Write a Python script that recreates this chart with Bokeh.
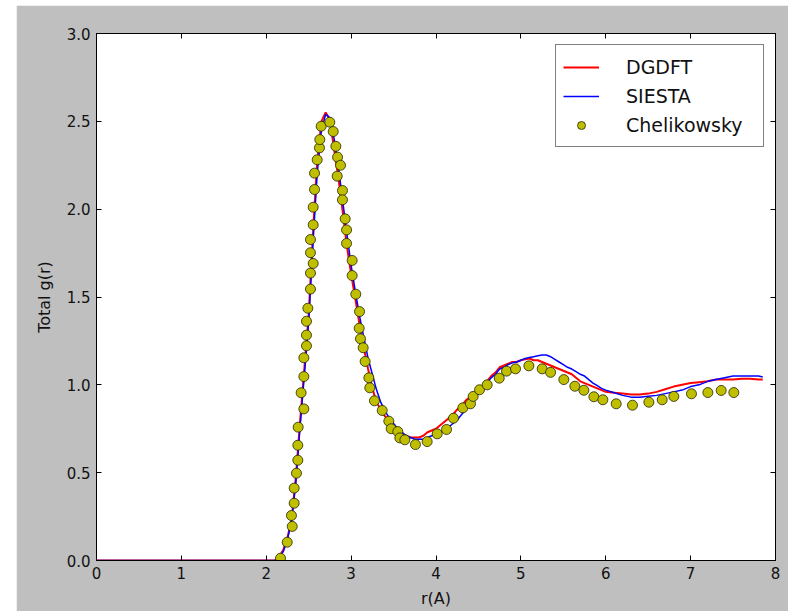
from bokeh.plotting import figure
from bokeh.models import Range1d, FixedTicker, LinearAxis, Legend, LegendItem, NumeralTickFormatter
from bokeh.embed import file_html
from bokeh.resources import INLINE

# ---- data ----
dgdft_r = [0.0, 2.10, 2.15, 2.20, 2.25, 2.30, 2.35, 2.40, 2.45, 2.50, 2.55, 2.60, 2.65, 2.70, 2.75,
           2.80, 2.85, 2.90, 2.95, 3.00, 3.05, 3.10, 3.15, 3.20, 3.25, 3.30, 3.35, 3.40, 3.45, 3.50,
           3.55, 3.60, 3.65, 3.70, 3.75, 3.80, 3.85, 3.90, 3.95, 4.00, 4.05, 4.10, 4.15, 4.20, 4.25,
           4.30, 4.35, 4.40, 4.45, 4.50, 4.55, 4.60, 4.65, 4.70, 4.75, 4.80, 4.85, 4.90, 4.95, 5.00,
           5.05, 5.10, 5.15, 5.20, 5.25, 5.30, 5.35, 5.40, 5.45, 5.50, 5.55, 5.60, 5.65, 5.70, 5.75,
           5.80, 5.85, 5.90, 5.95, 6.00, 6.10, 6.20, 6.30, 6.40, 6.50, 6.60, 6.70, 6.80, 6.90, 7.00,
           7.10, 7.20, 7.30, 7.40, 7.50, 7.60, 7.70, 7.80, 7.85]
dgdft_g = [0.0, 0.0, 0.02, 0.06, 0.13, 0.24, 0.48, 0.80, 1.10, 1.40, 1.86, 2.27, 2.50, 2.55, 2.51,
           2.34, 2.18, 1.99, 1.79, 1.63, 1.49, 1.34, 1.21, 1.09, 0.98, 0.90, 0.86, 0.82, 0.79, 0.76,
           0.74, 0.72, 0.71, 0.70, 0.70, 0.70, 0.71, 0.73, 0.74, 0.75, 0.77, 0.79, 0.81, 0.83, 0.86,
           0.88, 0.91, 0.93, 0.95, 0.97, 0.99, 1.02, 1.05, 1.07, 1.10, 1.11, 1.12, 1.13, 1.13, 1.14,
           1.145, 1.15, 1.14, 1.14, 1.13, 1.12, 1.11, 1.10, 1.09, 1.08, 1.07, 1.06, 1.04, 1.02, 1.01,
           1.00, 0.99, 0.98, 0.97, 0.96, 0.955, 0.95, 0.945, 0.945, 0.95, 0.96, 0.975, 0.99, 1.00, 1.01,
           1.015, 1.02, 1.03, 1.03, 1.03, 1.035, 1.035, 1.03, 1.03]

siesta_r = dgdft_r
siesta_g = [0.0, 0.0, 0.01, 0.05, 0.12, 0.23, 0.45, 0.77, 1.06, 1.36, 1.80, 2.20, 2.45, 2.54, 2.52,
            2.40, 2.24, 2.05, 1.86, 1.68, 1.53, 1.39, 1.27, 1.15, 1.06, 0.97, 0.90, 0.85, 0.81, 0.78,
            0.75, 0.73, 0.71, 0.70, 0.69, 0.69, 0.69, 0.70, 0.71, 0.72, 0.73, 0.74, 0.76, 0.78, 0.80,
            0.83, 0.86, 0.90, 0.93, 0.95, 0.97, 1.01, 1.04, 1.06, 1.09, 1.10, 1.115, 1.125, 1.13, 1.14,
            1.15, 1.155, 1.16, 1.165, 1.17, 1.17, 1.16, 1.145, 1.13, 1.115, 1.10, 1.09, 1.075, 1.06, 1.05,
            1.03, 1.01, 0.995, 0.98, 0.97, 0.955, 0.94, 0.93, 0.93, 0.935, 0.94, 0.95, 0.96, 0.97, 0.99,
            1.00, 1.02, 1.03, 1.04, 1.05, 1.05, 1.05, 1.05, 1.045]

chel_r = [2.168, 2.247, 2.306, 2.297, 2.329, 2.329, 2.356, 2.372, 2.372, 2.376, 2.443, 2.411, 2.443,
          2.443, 2.474, 2.474, 2.474, 2.490, 2.521, 2.521, 2.553, 2.521, 2.521, 2.553, 2.553, 2.569,
          2.569, 2.600, 2.627, 2.631, 2.647, 2.749, 2.789, 2.820, 2.840, 2.875, 2.836, 2.898, 2.898,
          2.930, 2.946, 2.946, 3.012, 3.012, 3.055, 3.099, 3.095, 3.110, 3.142, 3.165, 3.209, 3.220,
          3.275, 3.366, 3.444, 3.472, 3.550, 3.574, 3.633, 3.758, 3.896, 4.014, 4.124, 4.206, 4.316,
          4.406, 4.438, 4.513, 4.603, 4.745, 4.831, 4.937, 5.094, 5.251, 5.350, 5.506, 5.636, 5.742,
          5.860, 5.966, 6.123, 6.315, 6.508, 6.665, 6.802, 7.010, 7.203, 7.360, 7.509]
chel_g = [0.013, 0.104, 0.194, 0.256, 0.326, 0.412, 0.497, 0.571, 0.656, 0.759, 0.863, 0.955, 1.047,
          1.154, 1.222, 1.283, 1.362, 1.436, 1.545, 1.636, 1.691, 1.752, 1.827, 1.911, 2.011, 2.112,
          2.205, 2.281, 2.349, 2.396, 2.472, 2.495, 2.442, 2.358, 2.296, 2.250, 2.188, 2.106, 2.053,
          1.945, 1.882, 1.805, 1.708, 1.622, 1.516, 1.417, 1.322, 1.262, 1.211, 1.133, 1.040, 0.983,
          0.909, 0.854, 0.793, 0.750, 0.734, 0.698, 0.687, 0.660, 0.677, 0.721, 0.746, 0.810, 0.869,
          0.892, 0.934, 0.972, 1.000, 1.038, 1.078, 1.091, 1.108, 1.091, 1.071, 1.030, 0.992, 0.969,
          0.932, 0.915, 0.892, 0.884, 0.901, 0.915, 0.934, 0.949, 0.956, 0.968, 0.956]

x_ticks = [0, 1, 2, 3, 4, 5, 6, 7, 8]
y_ticks = [0.0, 0.5, 1.0, 1.5, 2.0, 2.5, 3.0]
series_names = ["DGDFT", "SIESTA", "Chelikowsky"]

FONT = "DejaVu Sans"
GRAY = "#bfbfbf"

p = figure(width=772, height=606, output_backend="svg", toolbar_location=None,
           x_range=Range1d(0, 8), y_range=Range1d(0, 3),
           min_border_left=80, min_border_right=13, min_border_top=28, min_border_bottom=51,
           background_fill_color="white", border_fill_color=GRAY,
           outline_line_color="black", outline_line_width=1,
           margin=(5, 0, 0, 16))
p.grid.visible = False
p.xaxis.visible = False
p.yaxis.visible = False

def style_axis(ax, ticks, show_labels):
    ax.major_tick_in = 5
    ax.major_tick_out = 0
    ax.minor_tick_line_color = None
    ax.major_tick_line_color = "black"
    ax.axis_line_color = "black"
    if show_labels:
        ax.major_label_text_font = FONT
        ax.major_label_text_font_size = "15px"
        ax.major_label_text_color = "#111111"
        ax.axis_label_text_font = FONT
        ax.axis_label_text_font_size = "16px"
        ax.axis_label_text_font_style = "normal"
        ax.axis_label_text_color = "#111111"
    else:
        ax.major_label_overrides = {t: "" for t in ticks}
        ax.major_label_standoff = 0

xb = LinearAxis(ticker=FixedTicker(ticks=x_ticks), axis_label="r(A)")
style_axis(xb, x_ticks, True)
xb.major_label_standoff = 6
xb.axis_label_standoff = 7
p.add_layout(xb, "below")

yl = LinearAxis(ticker=FixedTicker(ticks=y_ticks), axis_label="Total g(r)",
                formatter=NumeralTickFormatter(format="0.0"))
style_axis(yl, y_ticks, True)
yl.major_label_standoff = 6
yl.axis_label_standoff = 10
p.add_layout(yl, "left")

xt = LinearAxis(ticker=FixedTicker(ticks=x_ticks))
style_axis(xt, x_ticks, False)
p.add_layout(xt, "above")
yr = LinearAxis(ticker=FixedTicker(ticks=y_ticks))
style_axis(yr, y_ticks, False)
p.add_layout(yr, "right")

r1 = p.line(dgdft_r, dgdft_g, line_color="red", line_width=2)
r2 = p.line(siesta_r, siesta_g, line_color="blue", line_width=1.5)
r3 = p.scatter(chel_r, chel_g, size=10, fill_color="#bfbf00", line_color="#222200", line_width=0.8)

legend = Legend(items=[LegendItem(label=series_names[0], renderers=[r1]),
                       LegendItem(label=series_names[1], renderers=[r2]),
                       LegendItem(label=series_names[2], renderers=[r3])],
                location="top_right", margin=11, padding=7, spacing=0,
                glyph_width=36, glyph_height=20, label_height=29, label_width=130,
                label_standoff=27, label_text_font=FONT, label_text_font_size="19px",
                label_text_color="#111111",
                border_line_color="black", border_line_width=1,
                background_fill_color="white", background_fill_alpha=1.0)
p.add_layout(legend, "center")

open("out.html", "w").write(file_html(p, INLINE))
